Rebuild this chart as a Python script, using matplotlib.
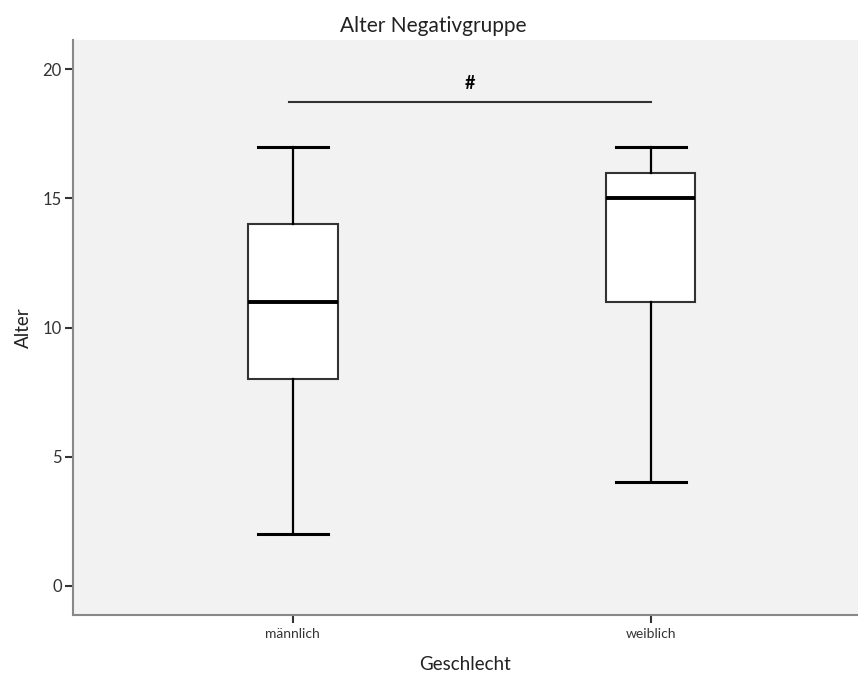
import matplotlib.pyplot as plt

# Box statistics
groups = ['männlich', 'weiblich']
whislo = [2, 4]
q1 = [8, 11]
med = [11, 15]
q3 = [14, 16]
whishi = [17, 17]

plt.rcParams['font.family'] = ['Lato', 'DejaVu Sans']

stats = []
for i, g in enumerate(groups):
    stats.append({'label': g, 'whislo': whislo[i], 'q1': q1[i], 'med': med[i],
                  'q3': q3[i], 'whishi': whishi[i], 'fliers': []})

fig = plt.figure(figsize=(8.58, 6.75), dpi=100)
ax = fig.add_axes([73/858, 1 - 615/675, 785/858, 575/675])
ax.set_facecolor('#f2f2f2')

ax.bxp(stats, positions=[1, 2], widths=0.25, patch_artist=True, showfliers=False,
       boxprops=dict(facecolor='white', edgecolor='#333333', linewidth=1.5),
       medianprops=dict(color='black', linewidth=2.8),
       whiskerprops=dict(color='black', linewidth=1.6),
       capprops=dict(color='black', linewidth=2.2),
       capwidths=0.195)

# significance bar
ax.plot([0.99, 2.0], [18.73, 18.73], color='#333333', linewidth=1.5)
ax.text(1.495, 19.47, '#', ha='center', va='center', fontsize=13, fontweight='bold')

ax.set_xlim(0.386, 2.579)
ax.set_ylim(-1.14, 21.14)
ax.set_yticks([0, 5, 10, 15, 20])
ax.set_xticks([1, 2])
ax.set_xticklabels(groups, fontsize=10, color='#333333')
ax.tick_params(axis='y', labelsize=12, colors='#333333', length=6, width=1.5, pad=2)
ax.tick_params(axis='x', length=6, width=1.5, colors='#333333', pad=3)

for s in ['top', 'right']:
    ax.spines[s].set_visible(False)
for s in ['left', 'bottom']:
    ax.spines[s].set_color('#888888')
    ax.spines[s].set_linewidth(1.5)

ax.set_title('Alter Negativgruppe', fontsize=15, x=0.459, pad=6, color='#222222')
ax.set_ylabel('Alter', fontsize=13.5, labelpad=8, color='#222222')
ax.set_xlabel('Geschlecht', fontsize=13.5, labelpad=12, color='#222222')

plt.savefig('out.png', dpi=100)
